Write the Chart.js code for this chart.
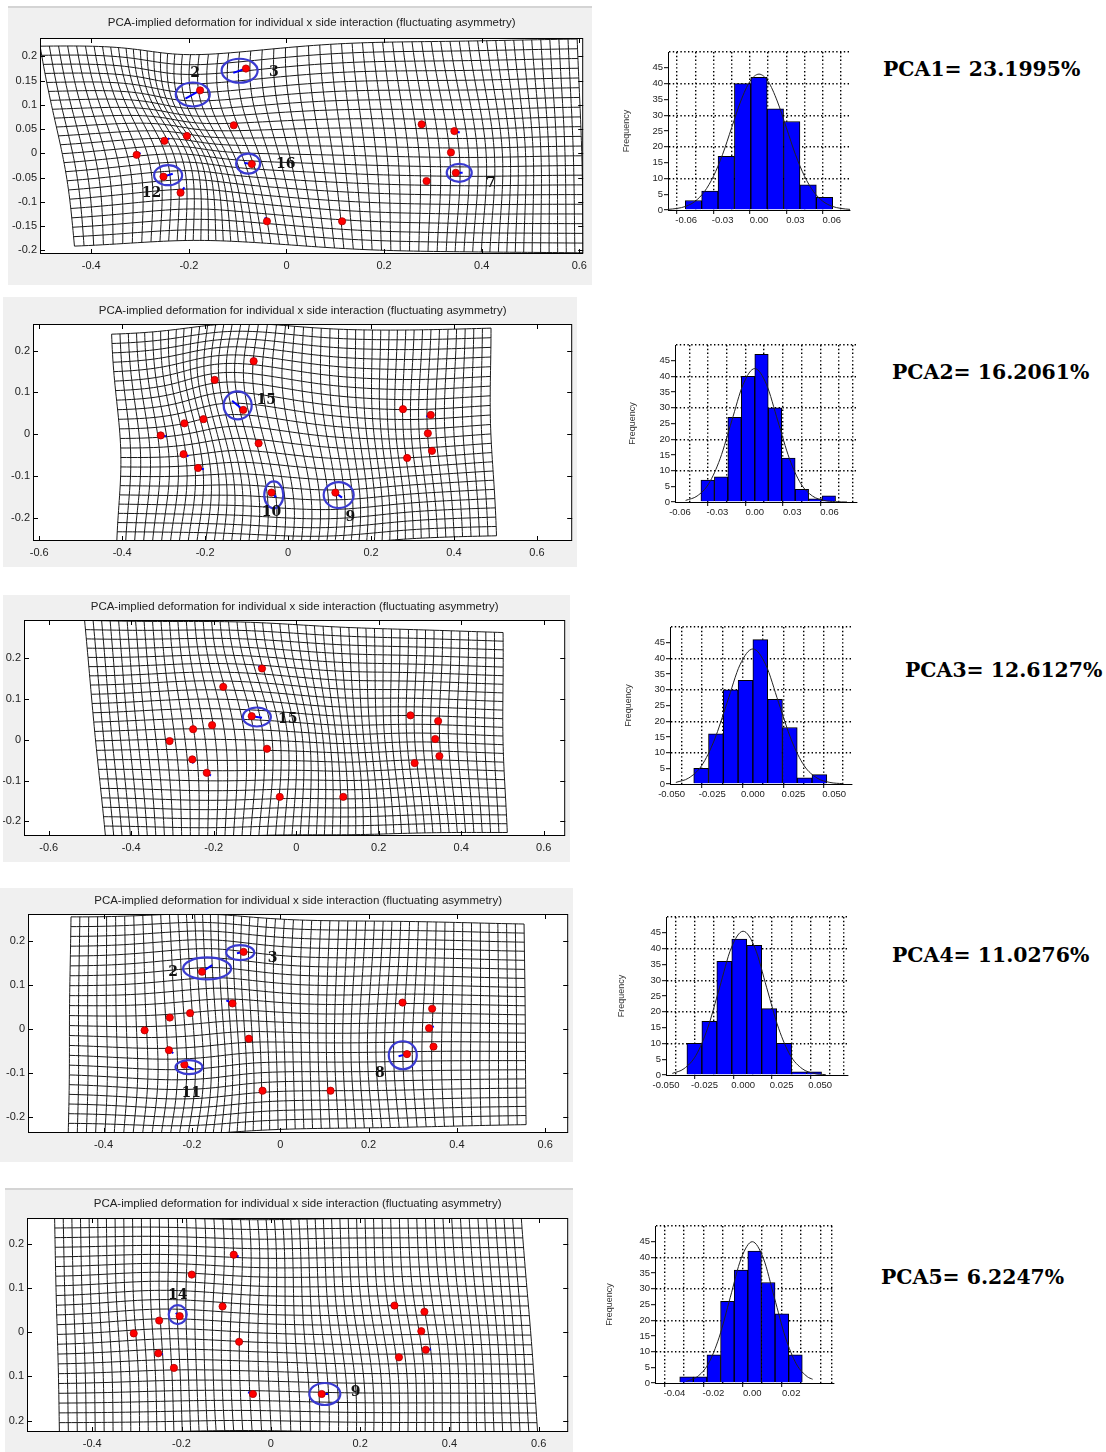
<!DOCTYPE html>
<html>
<head>
<meta charset="utf-8">
<script src="https://cdn.jsdelivr.net/npm/chart.js@4.4.0/dist/chart.umd.min.js"></script>
<style>
body{margin:0;background:#fff;width:1106px;height:1452px;position:relative;overflow:hidden;font-family:"Liberation Sans",Arial,sans-serif}
canvas{position:absolute}
.panel{background:#f0f0f0}
.pca{position:absolute;font-family:"DejaVu Serif",serif;font-weight:bold;font-size:20.4px;line-height:26px;color:#000;white-space:nowrap}
</style>
</head>
<body>
<script>
// ---- data ----
const panelTitle = 'PCA-implied deformation for individual x side interaction (fluctuating asymmetry)';

// mean landmark configuration (same in all five panels)
const landmarkX = [-0.307,-0.250,-0.204,-0.177,-0.108,-0.083,-0.071,-0.252,-0.217,-0.040,0.114,0.277,0.344,0.337,0.347,0.287];
const landmarkY = [-0.003,0.026,0.036,0.130,0.058,0.175,-0.022,-0.048,-0.081,-0.140,-0.140,0.060,0.046,0.002,-0.040,-0.057];
const landmarkNo = [null,null,14,2,15,3,16,12,11,10,9,null,null,null,7,8];

// blue shift vectors, one row per PC
const shiftX = [
  [0.008,0.010,0,-0.030,0,-0.026,-0.015,0.019,0.008,-0.004,0,0,0.011,0,0.014,0],
  [0.013,0,-0.007,-0.005,-0.027,0,0,0.012,0.014,0.011,0.016,0,-0.011,-0.004,0,0],
  [-0.007,0,0,-0.004,0.025,-0.009,0.007,0.002,0.010,0.006,0.008,-0.005,0,-0.005,-0.007,0],
  [-0.008,-0.002,0,0.023,-0.014,-0.015,0,0.010,0.021,-0.005,0,-0.008,0,0.011,0,-0.019],
  [0,-0.004,-0.009,0,0,0.011,0,0.010,0,-0.011,0.014,-0.009,0,0,0.012,0]
];
const shiftY = [
  [0.004,0.005,0,-0.017,0,-0.009,0.002,0.006,0.011,0.008,0,0,-0.003,0,0,0],
  [-0.002,0,0.006,0.002,0.022,0.009,0,-0.005,-0.003,-0.011,-0.012,0,-0.004,-0.006,0,0],
  [0.006,0.008,0.008,0.003,-0.004,0.006,0.004,-0.010,-0.007,0,-0.003,0.003,0,0,0.004,0],
  [-0.002,0.005,0,0.015,0.007,-0.003,0,-0.007,-0.011,0,0,0.004,0,0.004,0,-0.005],
  [0,0.007,0.007,0,0,-0.004,0,-0.002,0,0.004,0.000,0,0,0,0.001,0]
];
// circled landmarks per panel
const circled = [[3,5,6,7,14],[4,9,10],[4],[3,5,8,15],[2,10]];

const panelXTicks = [
  [-0.4,-0.2,0,0.2,0.4,0.6],
  [-0.6,-0.4,-0.2,0,0.2,0.4,0.6],
  [-0.6,-0.4,-0.2,0,0.2,0.4,0.6],
  [-0.4,-0.2,0,0.2,0.4,0.6],
  [-0.4,-0.2,0,0.2,0.4,0.6]
];
const panelYTicks = [
  [-0.2,-0.15,-0.1,-0.05,0,0.05,0.1,0.15,0.2],
  [-0.2,-0.1,0,0.1,0.2],
  [-0.2,-0.1,0,0.1,0.2],
  [-0.2,-0.1,0,0.1,0.2],
  [-0.2,-0.1,0,0.1,0.2]
];

const pcaNames = ['PCA1','PCA2','PCA3','PCA4','PCA5'];
const pcaPercent = ['23.1995','16.2061','12.6127','11.0276','6.2247'];

const binCenters = [
  [-0.054,-0.0405,-0.027,-0.0135,0,0.0135,0.027,0.0405,0.054],
  [-0.0378,-0.027,-0.0162,-0.0054,0.0054,0.0162,0.027,0.0378,0.0486,0.0594],
  [-0.03185,-0.02275,-0.01365,-0.00455,0.00455,0.01365,0.02275,0.03185,0.04095],
  [-0.0316,-0.0219,-0.0122,-0.0025,0.0072,0.0169,0.0266,0.0363,0.046],
  [-0.0338,-0.0268,-0.0198,-0.0128,-0.0058,0.0012,0.0082,0.0152,0.0222]
];
const binCounts = [
  [3,6,17,40,42,32,28,8,4],
  [7,8,27,40,47,30,14,4,1,2],
  [5,16,30,33,46,27,18,2,3],
  [10,17,36,43,41,21,10,1,1],
  [2,2,9,26,36,42,32,22,9]
];
const curveX = [
  [-0.075,-0.0675,-0.06,-0.0525,-0.045,-0.0375,-0.03,-0.0225,-0.015,-0.0075,0,0.0075,0.015,0.0225,0.03,0.0375,0.045,0.0525,0.06,0.0675,0.075],
  [-0.0555,-0.0463,-0.037,-0.0278,-0.0185,-0.0093,0,0.0093,0.0185,0.0278,0.037,0.0463,0.0555,0.0648,0.074],
  [-0.0474,-0.0395,-0.0316,-0.0237,-0.0158,-0.0079,0,0.0079,0.0158,0.0237,0.0316,0.0395,0.0474,0.0553],
  [-0.0459,-0.0383,-0.0306,-0.023,-0.0153,-0.0077,0,0.0077,0.0153,0.023,0.0306,0.0383,0.0459,0.0536],
  [-0.0339,-0.0283,-0.0226,-0.017,-0.0113,-0.0057,0,0.0057,0.0113,0.017,0.0226,0.0283,0.031]
];
const curveY = [
  [0.2,0.5,1.2,2.8,5.8,10.7,17.6,26.1,34.5,40.7,43,40.7,34.5,26.1,17.6,10.7,5.8,2.8,1.2,0.5,0.2],
  [0.5,1.9,5.8,13.8,25.8,37.5,42.5,37.5,25.8,13.8,5.8,1.9,0.5,0.1,0],
  [0.5,1.9,5.8,14,26,38,43,38,26,14,5.8,1.9,0.5,0.1],
  [0.5,2,6.2,14.8,27.6,40.2,45.5,40.2,27.6,14.8,6.2,2,0.5,0.1],
  [0.5,2,6.1,14.6,27.3,39.7,45,39.7,27.3,14.6,6.1,2,1.2]
];
const histTicks = [
  [-0.06,-0.03,0,0.03,0.06],
  [-0.06,-0.03,0,0.03,0.06],
  [-0.05,-0.025,0,0.025,0.05],
  [-0.05,-0.025,0,0.025,0.05],
  [-0.04,-0.02,0,0.02]
];
const freqTicks = [0,5,10,15,20,25,30,35,40,45];

// ---- layout (pixels) ----
const panels = [
  {box:[8,6,584,279], yW:32, padT:32, padR:8, xH:31, titleY:17, xr:[-0.505,0.608], yr:[-0.2075,0.238], line:true,
   mesh:{tl:[-0.505,0.221], tr:[0.595,0.236], bl:[-0.441,-0.195], br:[0.608,-0.205], cols:58, rows:22},
   rings:[[17,12],[18,12],[12,10],[14,10],[12.5,9]], tags:[[-5,-17],[28,4],[34,0],[-12,17],[35,11]]},
  {box:[3,297,574,270], yW:30, padT:27, padR:1, xH:26, titleY:14, xr:[-0.615,0.685], yr:[-0.256,0.264],
   mesh:{tl:[-0.426,0.239], tr:[0.491,0.255], bl:[-0.417,-0.255], br:[0.503,-0.243], cols:45, rows:22},
   rings:[[14,14],[9.5,13.5],[15,13]], tags:[[23,-10],[0,20],[15,25]]},
  {box:[3,595,567,267], yW:21, padT:25, padR:3, xH:26, titleY:12, xr:[-0.66,0.652], yr:[-0.236,0.294],
   mesh:{tl:[-0.513,0.293], tr:[0.502,0.263], bl:[-0.463,-0.234], br:[0.513,-0.228], cols:49, rows:23},
   rings:[[14,9.5]], tags:[[36,3]]},
  {box:[0,888,573,274], yW:28, padT:26, padR:2, xH:29, titleY:13, xr:[-0.571,0.652], yr:[-0.236,0.261],
   mesh:{tl:[-0.474,0.254], tr:[0.552,0.238], bl:[-0.481,-0.235], br:[0.557,-0.217], cols:52, rows:22},
   rings:[[24,11],[14,7.5],[13.5,7],[14,14]], tags:[[-29,1],[29,6],[7,29],[-27,19]]},
  {box:[5,1188,568,264], yW:22, padT:30, padR:1, xH:20, titleY:16, xr:[-0.546,0.666], yr:[-0.226,0.258], noMinus:true, line:true,
   mesh:{tl:[-0.484,0.257], tr:[0.561,0.257], bl:[-0.474,-0.227], br:[0.597,-0.227], cols:54, rows:22},
   rings:[[9,9.5],[15.5,11]], tags:[[-2,-21],[34,-2]]}
];
// how strongly the grid bends around shifted landmarks
const bendGain = 1.3, bendRadius = 0.12;

const hists = [
  {box:[610,40,250,190], yW:58, padT:12, padR:10, xH:20, titlePad:11, xr:[-0.075,0.075], step:0.015, dec:2},
  {box:[615,333,250,190], yW:60, padT:12, padR:8, xH:21, titlePad:12, xr:[-0.064,0.082], step:0.015, dec:2},
  {box:[610,615,250,190], yW:60, padT:12, padR:8, xH:21, titlePad:13, xr:[-0.051,0.061], step:0.0125, dec:3},
  {box:[605,905,250,190], yW:61, padT:12, padR:7, xH:20, titlePad:11, xr:[-0.05,0.068], step:0.0125, dec:3},
  {box:[595,1214,250,190], yW:60, padT:12, padR:11, xH:21, titlePad:9, xr:[-0.05,0.042], step:0.01, dec:2}
];
const pcaPos = [[883,56],[892,359],[905,657],[892,942],[881,1264]];

function makeCanvas(b, cls) {
  const c = document.createElement('canvas');
  c.width = b[2]; c.height = b[3];
  c.style.left = b[0] + 'px'; c.style.top = b[1] + 'px';
  c.style.width = b[2] + 'px'; c.style.height = b[3] + 'px';
  if (cls) c.className = cls;
  document.body.appendChild(c);
  return c;
}

function warp(i) {
  const p = panels[i];
  return {
    id: 'warp' + i,
    beforeDraw(chart) {
      const a = chart.chartArea, ctx = chart.ctx;
      ctx.save();
      ctx.fillStyle = '#fff';
      ctx.fillRect(a.left, a.top, a.right - a.left, a.bottom - a.top);
      ctx.restore();
    },
    beforeDatasetsDraw(chart) {
      const a = chart.chartArea, ctx = chart.ctx;
      const xs = chart.scales.x, ys = chart.scales.y, m = p.mesh;
      const pt = (u, v) => {
        let x = (1-u)*(1-v)*m.tl[0] + u*(1-v)*m.tr[0] + (1-u)*v*m.bl[0] + u*v*m.br[0];
        let y = (1-u)*(1-v)*m.tl[1] + u*(1-v)*m.tr[1] + (1-u)*v*m.bl[1] + u*v*m.br[1];
        // bend the grid toward the landmark shifts
        let bx = 0, by = 0;
        landmarkX.forEach((lx, k) => {
          const d2 = (x - lx) ** 2 + (y - landmarkY[k]) ** 2;
          const w = Math.exp(-d2 / (2 * bendRadius * bendRadius));
          bx += shiftX[i][k] * w; by += shiftY[i][k] * w;
        });
        x += bendGain * bx; y += bendGain * by;
        return [xs.getPixelForValue(x), ys.getPixelForValue(y)];
      };
      ctx.save();
      ctx.beginPath();
      ctx.rect(a.left, a.top, a.right - a.left, a.bottom - a.top);
      ctx.clip();
      ctx.strokeStyle = '#1a1a1a';
      ctx.lineWidth = 1;
      ctx.beginPath();
      const segU = 80, segV = 40;
      for (let r = 0; r <= m.rows; r++) {
        const v = r / m.rows;
        for (let s = 0; s <= segU; s++) {
          const q = pt(s / segU, v);
          if (s === 0) ctx.moveTo(q[0], q[1]); else ctx.lineTo(q[0], q[1]);
        }
      }
      for (let c = 0; c <= m.cols; c++) {
        const u = c / m.cols;
        for (let s = 0; s <= segV; s++) {
          const q = pt(u, s / segV);
          if (s === 0) ctx.moveTo(q[0], q[1]); else ctx.lineTo(q[0], q[1]);
        }
      }
      ctx.stroke();
      // shift vectors
      ctx.strokeStyle = '#0000ff';
      ctx.lineWidth = 2;
      landmarkX.forEach((x, k) => {
        const dx = shiftX[i][k], dy = shiftY[i][k];
        if (!dx && !dy) return;
        ctx.beginPath();
        ctx.moveTo(xs.getPixelForValue(x), ys.getPixelForValue(landmarkY[k]));
        ctx.lineTo(xs.getPixelForValue(x + dx), ys.getPixelForValue(landmarkY[k] + dy));
        ctx.stroke();
      });
      ctx.restore();
    },
    afterDatasetsDraw(chart) {
      const ctx = chart.ctx, xs = chart.scales.x, ys = chart.scales.y;
      ctx.save();
      circled[i].forEach((k, j) => {
        const cx = xs.getPixelForValue(landmarkX[k] + shiftX[i][k] / 2);
        const cy = ys.getPixelForValue(landmarkY[k] + shiftY[i][k] / 2);
        ctx.strokeStyle = '#3a3ad0';
        ctx.lineWidth = 2.2;
        ctx.beginPath();
        ctx.ellipse(cx, cy, p.rings[j][0], p.rings[j][1], 0, 0, Math.PI * 2);
        ctx.stroke();
        ctx.fillStyle = '#111';
        ctx.font = 'bold 14px "DejaVu Serif", serif';
        ctx.textAlign = 'center';
        ctx.textBaseline = 'middle';
        ctx.fillText(String(landmarkNo[k]), xs.getPixelForValue(landmarkX[k]) + p.tags[j][0], ys.getPixelForValue(landmarkY[k]) + p.tags[j][1]);
      });
      ctx.restore();
    },
    afterDraw(chart) {
      const a = chart.chartArea, ctx = chart.ctx, xs = chart.scales.x, ys = chart.scales.y;
      ctx.save();
      ctx.strokeStyle = '#000';
      ctx.lineWidth = 1;
      ctx.strokeRect(a.left + 0.5, a.top + 0.5, a.right - a.left - 1, a.bottom - a.top - 1);
      ctx.beginPath();
      panelXTicks[i].forEach(v => {
        const x = Math.round(xs.getPixelForValue(v)) + 0.5;
        ctx.moveTo(x, a.bottom); ctx.lineTo(x, a.bottom - 5);
        ctx.moveTo(x, a.top); ctx.lineTo(x, a.top + 5);
      });
      panelYTicks[i].forEach(v => {
        const y = Math.round(ys.getPixelForValue(v)) + 0.5;
        ctx.moveTo(a.left, y); ctx.lineTo(a.left + 5, y);
        ctx.moveTo(a.right, y); ctx.lineTo(a.right - 5, y);
      });
      ctx.stroke();
      if (p.line) {
        ctx.fillStyle = '#d4d4d4';
        ctx.fillRect(0, 0, chart.width, 2);
      }
      ctx.fillStyle = '#222';
      ctx.font = '11.5px "Liberation Sans", Arial, sans-serif';
      ctx.textAlign = 'center';
      ctx.textBaseline = 'middle';
      ctx.fillText(panelTitle, (a.left + a.right) / 2, p.titleY);
      ctx.restore();
    }
  };
}

function fmt(v) {
  return String(+v.toFixed(2));
}

panels.forEach((p, i) => {
  const cv = makeCanvas(p.box, 'panel');
  new Chart(cv, {
    type: 'scatter',
    data: {
      datasets: [{
        data: landmarkX.map((x, k) => ({x: x, y: landmarkY[k]})),
        pointRadius: 3.6,
        pointBackgroundColor: '#ff0000',
        pointBorderColor: '#b00000',
        pointBorderWidth: 0.8
      }]
    },
    options: {
      responsive: false, animation: false, devicePixelRatio: 1, events: [],
      layout: {padding: {left: 0, right: p.padR, top: p.padT, bottom: 0}},
      plugins: {legend: {display: false}, tooltip: {enabled: false}},
      scales: {
        x: {
          type: 'linear', min: p.xr[0], max: p.xr[1],
          afterBuildTicks: s => { s.ticks = panelXTicks[i].map(v => ({value: v})); },
          afterFit: s => { s.height = p.xH; },
          ticks: {autoSkip: false, maxRotation: 0, padding: 5, color: '#222', font: {size: 11}, callback: v => fmt(v)},
          grid: {display: false, drawTicks: false, tickLength: 0}, border: {display: false}
        },
        y: {
          type: 'linear', min: p.yr[0], max: p.yr[1],
          afterBuildTicks: s => { s.ticks = panelYTicks[i].map(v => ({value: v})); },
          afterFit: s => { s.width = p.yW; },
          ticks: {autoSkip: false, padding: 3, color: '#222', font: {size: 11},
            callback: v => p.noMinus ? fmt(v).replace('-', '') : fmt(v)},
          grid: {display: false, drawTicks: false, tickLength: 0}, border: {display: false}
        }
      }
    },
    plugins: [warp(i)]
  });
});

hists.forEach((h, i) => {
  const cv = makeCanvas(h.box);
  const isLab = v => histTicks[i].some(t => Math.abs(t - v) < 1e-9);
  const gridVals = [];
  for (let k = Math.ceil(h.xr[0] / h.step - 1e-9); k * h.step <= h.xr[1] + 1e-9; k++) gridVals.push(+(k * h.step).toFixed(6));
  if (Math.abs(gridVals[gridVals.length - 1] - h.xr[1]) > 1e-6) gridVals.push(h.xr[1]);
  const tv = c => (c && c.tick) ? c.tick.value : null;
  // bar width = bin width in pixels of the plot box
  const plotW = h.box[2] - h.yW - h.padR;
  const binPx = (binCenters[i][1] - binCenters[i][0]) * plotW / (h.xr[1] - h.xr[0]);
  new Chart(cv, {
    type: 'bar',
    data: {
      datasets: [
        {type: 'line', data: curveX[i].map((x, k) => ({x: x, y: curveY[i][k]})),
         borderColor: '#222', borderWidth: 1, pointRadius: 0, cubicInterpolationMode: 'monotone', order: 0},
        {type: 'bar', data: binCenters[i].map((x, k) => ({x: x, y: binCounts[i][k]})),
         backgroundColor: '#0000ff', borderColor: '#000', borderWidth: 1,
         barThickness: binPx, order: 1}
      ]
    },
    options: {
      responsive: false, animation: false, devicePixelRatio: 1, events: [],
      layout: {padding: {left: 0, right: h.padR, top: h.padT, bottom: 0}},
      plugins: {legend: {display: false}, tooltip: {enabled: false}},
      scales: {
        x: {
          type: 'linear', min: h.xr[0], max: h.xr[1], offset: false,
          afterBuildTicks: s => { s.ticks = gridVals.map(v => ({value: v})); },
          afterFit: s => { s.height = h.xH; },
          ticks: {autoSkip: false, maxRotation: 0, padding: 1, color: '#222', font: {size: 9.5},
            callback: v => isLab(v) ? v.toFixed(h.dec) : ''},
          grid: {color: '#000', lineWidth: 1.4, tickLength: 4, tickWidth: 1,
            tickColor: c => (tv(c) !== null && isLab(tv(c))) ? '#000' : 'rgba(0,0,0,0)'},
          border: {display: true, color: '#000', width: 1, dash: [1.4, 2.4]}
        },
        y: {
          min: 0, max: 50,
          afterBuildTicks: s => { s.ticks = freqTicks.concat([50]).map(v => ({value: v})); },
          afterFit: s => { s.width = h.yW; },
          ticks: {autoSkip: false, padding: 1, color: '#222', font: {size: 9.5},
            callback: v => v === 50 ? '' : String(v)},
          title: {display: true, text: 'Frequency', color: '#333', font: {size: 9}, padding: {top: h.titlePad, bottom: 0}},
          grid: {lineWidth: 1.4, tickLength: 4, tickWidth: 1,
            color: c => { const v = tv(c); return (v !== null && v > 0 && v % 10 === 0) ? '#000' : 'rgba(0,0,0,0)'; },
            tickColor: c => tv(c) === 50 ? 'rgba(0,0,0,0)' : '#000'},
          border: {display: true, color: '#000', width: 1, dash: [1.4, 2.4]}
        }
      }
    }
  });
});

pcaNames.forEach((n, i) => {
  const d = document.createElement('div');
  d.className = 'pca';
  d.style.left = pcaPos[i][0] + 'px';
  d.style.top = pcaPos[i][1] + 'px';
  d.textContent = n + '= ' + pcaPercent[i] + '%';
  document.body.appendChild(d);
});
</script>
</body>
</html>
